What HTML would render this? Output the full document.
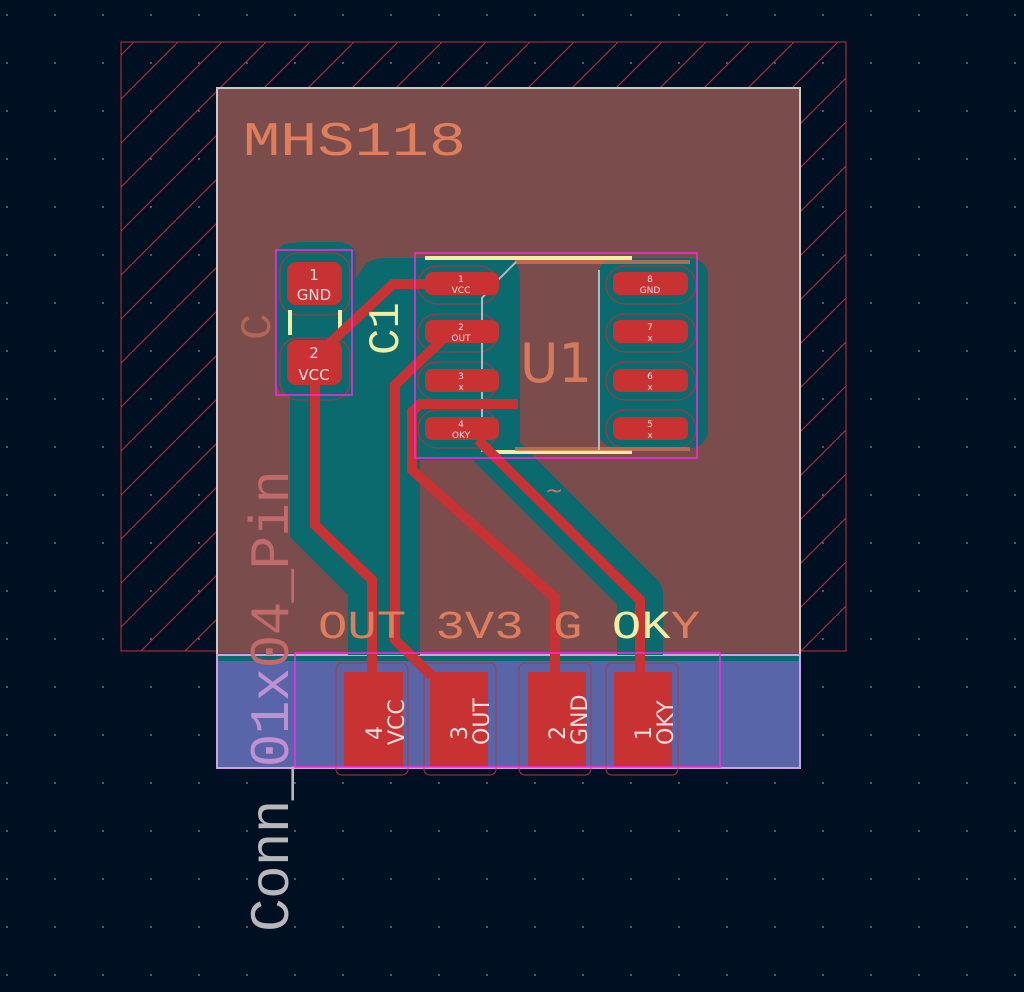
<!DOCTYPE html>
<html><head><meta charset="utf-8"><style>
html,body{margin:0;padding:0;background:#001023;}
svg{display:block}
</style></head><body>
<svg width="1024" height="992" viewBox="0 0 1024 992" xmlns="http://www.w3.org/2000/svg" style="font-family:'DejaVu Sans','Liberation Sans',sans-serif">
<defs>
<pattern id="dots" width="48" height="48" patternUnits="userSpaceOnUse" x="6" y="14">
<rect x="0" y="0" width="2" height="2" fill="#4a5a6a"/>
</pattern>
<pattern id="hatch" width="44" height="44" patternUnits="userSpaceOnUse">
<line x1="0" y1="44" x2="44" y2="0" stroke="#c0303a" stroke-width="1"/>
</pattern>
</defs>
<rect width="1024" height="992" fill="#001023"/>
<rect width="1024" height="992" fill="url(#dots)"/>
<rect x="121" y="42" width="725" height="609" fill="url(#hatch)" stroke="#c0303a" stroke-width="1"/>
<rect x="217" y="88" width="583" height="567" fill="#7a4c4c"/>
<rect x="217" y="655" width="583" height="113" fill="#5865a8"/>
<rect x="217" y="653" width="583" height="8" fill="#0a6a6e"/>
<rect x="217" y="88" width="583" height="680" fill="none" stroke="#c8c8c8" stroke-width="2"/>
<rect x="217" y="655" width="583" height="113" fill="none" stroke="#d0a0e0" stroke-width="2"/>
<g fill="#0a6a6e">
<path d="M290 250 Q290 242 300 242 L340 242 Q352 244 355 258 L355 280 L365 265 Q372 258 385 258 L510 258 Q520 262 520 280 L520 460 L420 460 L420 655 L348 655 L348 595 L290 537 Z"/>
<rect x="276" y="243" width="80" height="152" rx="14"/>
<rect x="598" y="258" width="110" height="190" rx="18"/>
</g>
<polyline points="490,445 640,595 640,655" fill="none" stroke="#0a6a6e" stroke-width="46" stroke-linejoin="round"/>
<g fill="none" stroke="#b03838" stroke-width="1">
<rect x="418" y="266" width="80" height="38" rx="19"/>
<rect x="418" y="314" width="80" height="38" rx="19"/>
<rect x="418" y="362" width="80" height="38" rx="19"/>
<rect x="418" y="410" width="80" height="38" rx="19"/>
<rect x="606" y="266" width="90" height="38" rx="19"/>
<rect x="606" y="314" width="90" height="38" rx="19"/>
<rect x="606" y="362" width="90" height="38" rx="19"/>
<rect x="606" y="410" width="90" height="38" rx="19"/>
<rect x="280" y="253" width="70" height="62" rx="18"/>
<rect x="280" y="338" width="70" height="62" rx="18"/>
<rect x="336" y="663" width="72" height="112" rx="6"/>
<rect x="424" y="663" width="72" height="112" rx="6"/>
<rect x="519" y="663" width="72" height="112" rx="6"/>
<rect x="606" y="663" width="72" height="112" rx="6"/>
</g>
<g stroke="#f0eea0" stroke-width="4" fill="none">
<line x1="425" y1="258" x2="632" y2="258"/>
<line x1="488" y1="452" x2="632" y2="452"/>
<line x1="290" y1="310" x2="290" y2="335"/>
<line x1="340" y1="310" x2="340" y2="335"/>
</g>
<g stroke="#d07050" stroke-width="4" opacity="0.8"><line x1="515" y1="262" x2="690" y2="262"/><line x1="515" y1="449" x2="690" y2="449"/></g>
<g stroke="#b0b8c0" stroke-width="2" fill="none">
<polyline points="516,262 495,283 482,298 482,452"/>
<line x1="599" y1="270" x2="599" y2="450"/>
</g>
<g fill="none" stroke="#c83232" stroke-width="10" stroke-linejoin="miter">
<polyline points="315,360 315,525 372,580 372,690"/>
<polyline points="328,345 393,284 462,284"/>
<polyline points="442,340 395,385 395,640 432,676"/>
<polyline points="518,404 420,404 412,412 412,470 555,598 555,690"/>
<polyline points="478,440 640,600 640,690"/>
</g>
<g fill="#c83232">
<rect x="425" y="272" width="74" height="23" rx="7"/>
<rect x="425" y="320" width="74" height="23" rx="7"/>
<rect x="425" y="369" width="74" height="23" rx="7"/>
<rect x="425" y="417" width="74" height="23" rx="7"/>
<rect x="613" y="272" width="75" height="23" rx="7"/>
<rect x="613" y="320" width="75" height="23" rx="7"/>
<rect x="613" y="369" width="75" height="23" rx="7"/>
<rect x="613" y="417" width="75" height="23" rx="7"/>
<rect x="287" y="262" width="55" height="43" rx="9"/>
<rect x="287" y="340" width="55" height="45" rx="9"/>
<rect x="344" y="672" width="59" height="95"/>
<rect x="430" y="672" width="58" height="95"/>
<rect x="528" y="672" width="58" height="95"/>
<rect x="614" y="672" width="58" height="95"/>
</g>
<g fill="#f0dede" font-size="9" text-anchor="middle">
<text x="461" y="282">1</text><text x="461" y="293">VCC</text>
<text x="461" y="330">2</text><text x="461" y="341">OUT</text>
<text x="461" y="379">3</text><text x="461" y="390">x</text>
<text x="461" y="427">4</text><text x="461" y="438">OKY</text>
<text x="650" y="282">8</text><text x="650" y="293">GND</text>
<text x="650" y="330">7</text><text x="650" y="341">x</text>
<text x="650" y="379">6</text><text x="650" y="390">x</text>
<text x="650" y="427">5</text><text x="650" y="438">x</text>
</g>
<g fill="#f0dede" font-size="15" text-anchor="middle">
<text x="314" y="280">1</text><text x="314" y="300">GND</text>
<text x="314" y="358">2</text><text x="314" y="380">VCC</text>
</g>
<g fill="#f0dede" font-size="22">
<text transform="translate(382,740) rotate(-90)">4</text><text transform="translate(404,745) rotate(-90)">VCC</text>
<text transform="translate(467,740) rotate(-90)">3</text><text transform="translate(489,745) rotate(-90)">OUT</text>
<text transform="translate(565,740) rotate(-90)">2</text><text transform="translate(587,745) rotate(-90)">GND</text>
<text transform="translate(651,740) rotate(-90)">1</text><text transform="translate(673,745) rotate(-90)">OKY</text>
</g>
<g fill="none" stroke="#ff26e2" stroke-width="1.5">
<rect x="276" y="250" width="76" height="145"/>
<rect x="415" y="253" width="282" height="205"/>
<rect x="295" y="653" width="425" height="114"/>
</g>
<text x="243" y="155" font-size="48" fill="#e07e5c" style="font-family:'Liberation Mono',monospace" textLength="223" lengthAdjust="spacingAndGlyphs">MHS118</text>
<text x="520" y="382" font-size="54" fill="#e07e5c" opacity="0.9" style="font-family:'DejaVu Sans',sans-serif" textLength="72" lengthAdjust="spacingAndGlyphs">U1</text>
<text transform="translate(398,355) rotate(-90)" font-size="44" fill="#f0eea0" style="font-family:'Liberation Mono',monospace">C1</text>
<text transform="translate(270,340) rotate(-90)" font-size="44" fill="#c06a5a" opacity="0.8" style="font-family:'Liberation Mono',monospace">C</text>
<text x="545" y="498" font-size="22" fill="#d07070">~</text>
<text x="318" y="638" font-size="40" fill="#e07e5c" style="font-family:'Liberation Mono',monospace" textLength="382" lengthAdjust="spacingAndGlyphs">OUT 3V3 G  <tspan fill="#f0eea0">OK</tspan>Y</text>
<text transform="translate(288,932) rotate(-90)" font-size="56" fill="#b8b8b8" style="font-family:'Liberation Mono',monospace" textLength="462">Conn_<tspan fill="#c090d0">01x</tspan><tspan fill="#c06a6a">04_Pin</tspan></text>
</svg>
</body></html>
